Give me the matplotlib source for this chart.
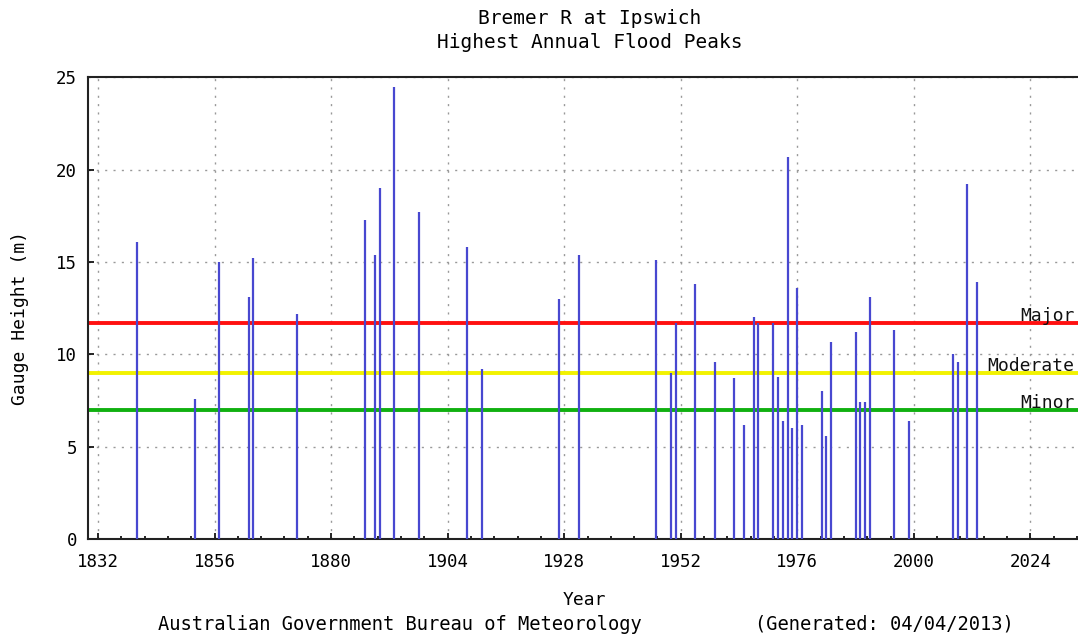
import matplotlib
matplotlib.use("Agg")
import matplotlib.pyplot as plt
import matplotlib.ticker as ticker

# ── Data ────────────────────────────────────────────────────────────────────

years = [1840, 1852, 1857, 1863, 1864, 1873, 1887, 1889, 1890, 1893,
         1898, 1908, 1911, 1927, 1931, 1947, 1950, 1951, 1955, 1959,
         1963, 1965, 1967, 1968, 1971, 1972, 1973, 1974, 1975, 1976,
         1977, 1981, 1982, 1983, 1988, 1989, 1990, 1991, 1996, 1999,
         2008, 2009, 2011, 2013]
peaks = [16.1, 7.6, 15.0, 13.1, 15.2, 12.2, 17.3, 15.4, 19.0, 24.5,
         17.7, 15.8, 9.2, 13.0, 15.4, 15.1, 9.0, 11.7, 13.8, 9.6,
         8.7, 6.2, 12.0, 11.7, 11.7, 8.8, 6.4, 20.7, 6.0, 13.6,
         6.2, 8.0, 5.6, 10.7, 11.2, 7.4, 7.4, 13.1, 11.3, 6.4,
         10.0, 9.6, 19.2, 13.9]

level_names = ["Major", "Moderate", "Minor"]
level_values = [11.7, 9.0, 7.0]
level_colors = ["#ff1010", "#f2f200", "#10b010"]

# ── Plot ─────────────────────────────────────────────────────────────────────

FONT = "DejaVu Sans Mono"
plt.rcParams["font.family"] = FONT

fig = plt.figure(figsize=(10.78, 6.34), dpi=100)
# axes runs past the right edge of the picture, as in the original
ax = fig.add_axes([88.3 / 1078, 94.8 / 634, 1019.8 / 1078, 461.9 / 634])

ax.set_xlim(1830, 2040)
ax.set_ylim(0, 25)

ax.xaxis.set_major_locator(ticker.MultipleLocator(24, offset=8))
ax.xaxis.set_minor_locator(ticker.AutoMinorLocator(5))
ax.yaxis.set_major_locator(ticker.MultipleLocator(5))

ax.grid(True, which="major", color="#999999", linestyle=(0, (1.5, 4.5)), linewidth=1.0)
ax.set_axisbelow(True)

for name, val, col in zip(level_names, level_values, level_colors):
    ax.axhline(val, color=col, linewidth=2.8, zorder=2)
    # right-aligned just inside the picture's right edge
    ax.text(2033.1, val + 0.12, name, ha="right", va="baseline",
            fontsize=13, color="#111111", zorder=4)

ax.vlines(years, 0, peaks, color="#4848d0", linewidth=1.6, zorder=3)

# ── Styling ──────────────────────────────────────────────────────────────────

for s in ax.spines.values():
    s.set_linewidth(1.5)
    s.set_color("#222222")

ax.tick_params(axis="both", which="major", direction="in", length=4,
               width=1.2, labelsize=12.5, pad=8)
ax.tick_params(axis="x", which="minor", direction="in", length=2.5, width=1.2)
ax.tick_params(axis="x", which="major", pad=10)

fig.text(590 / 1078, 1 - 18 / 634, "Bremer R at Ipswich", ha="center", va="center",
         fontsize=14)
fig.text(590 / 1078, 1 - 42 / 634, "Highest Annual Flood Peaks", ha="center", va="center",
         fontsize=14)

fig.text(20 / 1078, 1 - 318 / 634, "Gauge Height (m)", rotation=90,
         ha="center", va="center", fontsize=13)
fig.text(584 / 1078, 1 - 600 / 634, "Year", ha="center", va="center", fontsize=13)

fig.text(158 / 1078, 1 - 624 / 634, "Australian Government Bureau of Meteorology",
         ha="left", va="center", fontsize=13.5)
fig.text(755 / 1078, 1 - 624 / 634, "(Generated: 04/04/2013)",
         ha="left", va="center", fontsize=13.5)

fig.savefig("out.png", dpi=100)
